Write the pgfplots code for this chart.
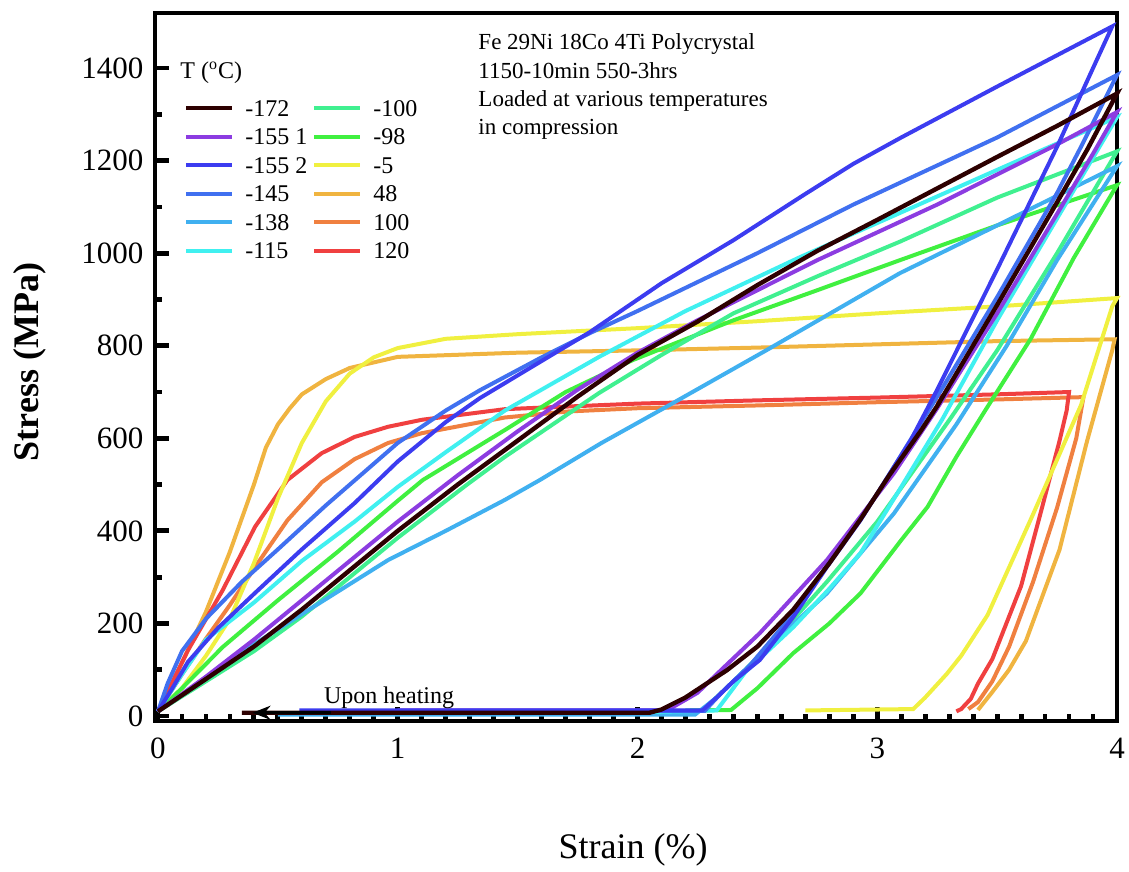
\documentclass[border=0pt]{standalone}
\usepackage{fontspec}
\setmainfont{Liberation Serif}
\usepackage{pgfplots}
\pgfplotsset{compat=1.18}
\usetikzlibrary{arrows.meta}
\definecolor{c172}{RGB}{45,0,0}
\definecolor{c1551}{RGB}{140,60,225}
\definecolor{c1552}{RGB}{60,60,240}
\definecolor{c145}{RGB}{64,112,240}
\definecolor{c138}{RGB}{64,176,240}
\definecolor{c115}{RGB}{64,240,240}
\definecolor{c100n}{RGB}{64,240,144}
\definecolor{c98}{RGB}{64,240,64}
\definecolor{c5}{RGB}{240,240,64}
\definecolor{c48}{RGB}{240,180,64}
\definecolor{c100}{RGB}{240,128,64}
\definecolor{c120}{RGB}{240,64,64}
\begin{document}
\begin{tikzpicture}
\begin{axis}[
  at={(0,0)}, anchor=south west,
  scale only axis, width=481pt, height=354pt,
  xmin=-0.0125, xmax=4.0, ymin=-10.8, ymax=1519,
  clip=false,
  axis line style={line width=2.4pt},
  xtick={0,1,2,3,4}, ytick={0,200,...,1400},
  minor x tick num=9, minor y tick num=1,
  tick pos=left, tick align=inside,
  major tick length=7pt, minor tick length=3.5pt,
  every tick/.style={black, line width=2.4pt},
  ticklabel style={font=\fontsize{15.5}{18}\selectfont},
  xticklabel style={yshift=-5pt},
  yticklabel style={xshift=-2.3pt},
  /pgf/number format/assume math mode=true,
  /pgf/number format/1000 sep={},
  xlabel={Strain (\%)},
  ylabel={\textbf{Stress (MPa)}},
  xlabel style={at={(axis description cs:0.497,-0.1822)}, anchor=center, font=\fontsize{18}{21}\selectfont},
  ylabel style={at={(axis description cs:-0.1299,0.507)}, anchor=center, font=\fontsize{18}{21}\selectfont},
  legend columns=2, legend cell align=left,
  legend image code/.code={\draw[#1] (0pt,0pt) -- (23pt,0pt);},
  legend style={at={(rel axis cs:0.0301,0.886)}, anchor=north west, draw=none, fill=none,
    inner xsep=0pt, inner ysep=0pt,
    font=\fontsize{12}{14}\selectfont,
    nodes={inner sep=0pt, text height=11pt, text depth=3.25pt},
    /tikz/every odd column/.append style={column sep=5.5pt},
    /tikz/every even column/.append style={column sep=2.5pt},
    row sep=0pt},
]
\addlegendimage{c172, line width=2pt}\addlegendentry{-172}
\addlegendimage{c100n, line width=2pt}\addlegendentry{-100}
\addlegendimage{c1551, line width=2pt}\addlegendentry{-155 1}
\addlegendimage{c98, line width=2pt}\addlegendentry{-98}
\addlegendimage{c1552, line width=2pt}\addlegendentry{-155 2}
\addlegendimage{c5, line width=2pt}\addlegendentry{-5}
\addlegendimage{c145, line width=2pt}\addlegendentry{-145}
\addlegendimage{c48, line width=2pt}\addlegendentry{48}
\addlegendimage{c138, line width=2pt}\addlegendentry{-138}
\addlegendimage{c100, line width=2pt}\addlegendentry{100}
\addlegendimage{c115, line width=2pt}\addlegendentry{-115}
\addlegendimage{c120, line width=2pt}\addlegendentry{120}

% 48 C
\addplot[forget plot, c48, line width=2pt] coordinates {
(0,10) (0.1,115) (0.2,225) (0.3,355) (0.4,500) (0.45,580) (0.5,630) (0.55,665) (0.6,695) (0.7,728) (0.8,752) (1.0,776) (1.5,785) (2.0,790) (2.5,796) (3.0,803) (3.5,810) (3.99,814)
(3.98,790) (3.875,594) (3.76,359) (3.62,162) (3.55,100) (3.48,52) (3.42,13)};
% 100 C
\addplot[forget plot, c100, line width=2pt] coordinates {
(0,10) (0.1,90) (0.196,164) (0.3,240) (0.405,322) (0.54,423) (0.683,505) (0.82,555) (0.96,590) (1.1,611) (1.447,645) (1.71,658) (2.0,665) (2.5,671) (3.0,678) (3.5,684) (3.86,689)
(3.83,600) (3.75,450) (3.65,290) (3.55,150) (3.48,75) (3.42,30) (3.38,15)};
% 120 C
\addplot[forget plot, c120, line width=2pt] coordinates {
(0,10) (0.125,142) (0.27,272) (0.405,409) (0.54,510) (0.683,568) (0.82,603) (0.96,625) (1.1,640) (1.447,663) (2.0,675) (2.5,682) (3.0,688) (3.5,695) (3.8,700)
(3.79,660) (3.76,594) (3.68,436) (3.60,281) (3.48,123) (3.42,70) (3.39,37) (3.35,15) (3.33,10)};
% -5 C
\addplot[forget plot, c5, line width=2pt] coordinates {
(0,10) (0.1,60) (0.2,130) (0.3,210) (0.4,330) (0.5,470) (0.6,590) (0.7,680) (0.8,740) (0.9,775) (1.0,795) (1.2,815) (1.5,825) (2.0,838) (2.5,853) (3.0,870) (3.5,885) (4.0,903)
(3.98,885) (3.85,672) (3.65,436) (3.46,218) (3.35,130) (3.29,91) (3.2,40) (3.15,15) (2.7,12)};
% -98 C
\addplot[forget plot, c98, line width=2pt] coordinates {
(0,10) (0.1,60) (0.27,149) (0.5,250) (0.75,355) (1.0,465) (1.105,510) (1.447,618) (1.7,700) (1.98,769) (2.4,855) (2.75,920) (3.095,985) (3.5,1060) (4.0,1147)
(3.82,990) (3.64,815) (3.45,660) (3.33,560) (3.21,452) (3.1,380) (2.93,265) (2.8,200) (2.65,136) (2.5,60) (2.39,13) (2.22,12)};
% -100 C
\addplot[forget plot, c100n, line width=2pt] coordinates {
(0,10) (0.2,75) (0.4,140) (0.6,215) (0.8,300) (1.0,385) (1.289,500) (1.447,560) (1.84,698) (2.1,780) (2.4,870) (2.75,950) (3.095,1025) (3.5,1120) (4.0,1220)
(3.75,1000) (3.5,790) (3.3,639) (3.0,420) (2.79,290) (2.6,180) (2.45,100) (2.35,50) (2.27,12) (2.2,12)};
% -138 C
\addplot[forget plot, c138, line width=2pt] coordinates {
(0,10) (0.2,80) (0.4,155) (0.6,220) (0.8,285) (0.96,337) (1.2,400) (1.447,467) (1.593,510) (1.85,590) (2.12,668) (2.54,791) (3.095,957) (3.5,1060) (4.0,1188)
(3.75,985) (3.54,800) (3.33,630) (3.07,438) (2.79,265) (2.6,175) (2.45,100) (2.33,40) (2.24,3) (0.5,3)};
% -115 C
\addplot[forget plot, c115, line width=2pt] coordinates {
(0,10) (0.1,90) (0.2,165) (0.4,245) (0.6,335) (0.82,420) (1.0,495) (1.2,570) (1.447,660) (1.84,776) (2.2,875) (2.68,992) (3.095,1087) (3.5,1180) (4.0,1294)
(3.75,1075) (3.5,855) (3.27,640) (3.1,495) (2.93,352) (2.8,275) (2.65,192) (2.45,95) (2.33,12) (2.0,8)};
% -145 C
\addplot[forget plot, c145, line width=2pt] coordinates {
(0,10) (0.04,70) (0.1,140) (0.2,210) (0.35,290) (0.5,360) (0.7,455) (1.0,590) (1.2,660) (1.343,704) (1.6,775) (1.8,827) (2.0,875) (2.5,1000) (2.9,1105) (3.5,1250) (4.0,1385)
(3.85,1230) (3.75,1130) (3.5,905) (3.25,690) (3.0,480) (2.75,295) (2.6,190) (2.47,110) (2.35,50) (2.28,11) (1.07,11)};
% -155 1
\addplot[forget plot, c1551, line width=2pt] coordinates {
(0,10) (0.2,85) (0.4,165) (0.6,250) (0.8,335) (1.0,420) (1.25,520) (1.5,615) (1.75,705) (2.0,785) (2.25,855) (2.5,920) (2.75,985) (3.0,1045) (3.25,1105) (3.5,1170) (3.75,1235) (4.0,1305)
(3.9,1215) (3.75,1085) (3.5,870) (3.25,665) (3.07,525) (2.79,337) (2.51,179) (2.35,100) (2.25,50) (2.15,20) (2.1,12) (1.0,12)};
% -155 2
\addplot[forget plot, c1552, line width=2pt] coordinates {
(0,10) (0.06,60) (0.125,117) (0.25,190) (0.405,266) (0.6,360) (0.82,460) (1.0,550) (1.2,635) (1.343,687) (1.6,767) (1.8,829) (2.1,935) (2.4,1028) (2.7,1128) (2.9,1193) (3.1,1250) (3.5,1360) (3.98,1490)
(3.9,1400) (3.75,1230) (3.5,965) (3.25,705) (3.14,596) (2.93,423) (2.79,322) (2.65,214) (2.51,121) (2.4,75) (2.33,40) (2.27,12) (0.59,12)};
% -172 C
\addplot[forget plot, c172, line width=2.2pt] coordinates {
(0,10) (0.1,45) (0.2,80) (0.4,150) (0.6,230) (0.8,315) (1.0,400) (1.25,500) (1.5,595) (1.75,690) (2.0,780) (2.25,852) (2.5,931) (2.75,1005) (3.0,1072) (3.25,1140) (3.5,1208) (3.75,1275) (4.0,1345)
(3.875,1223) (3.75,1110) (3.5,888) (3.25,670) (3.18,615) (3.05,520) (2.93,425) (2.8,330) (2.65,230) (2.5,150) (2.373,99) (2.2,40) (2.1,14) (2.05,7) (0.35,7)};

\draw[black, line width=1.5pt, -{Stealth[length=9pt,width=7pt]}] (axis cs:0.72,7) -- (axis cs:0.394,7);
\node[anchor=base, font=\fontsize{12}{14}\selectfont, inner sep=0pt] at (axis cs:0.964,28) {Upon heating};
\node[anchor=west, font=\fontsize{12}{14}\selectfont, inner sep=0pt] at (axis cs:0.092,1390) {T (\textsuperscript{o}C)};
\node[anchor=north west, align=left, inner sep=0pt, font=\fontsize{11.5}{14.2}\selectfont] at (axis cs:1.335,1475) {Fe 29Ni 18Co 4Ti Polycrystal\\1150-10min 550-3hrs\\Loaded at various temperatures\\in compression};
\end{axis}
\pgfresetboundingbox
\useasboundingbox (-77.5pt,-75.5pt) rectangle (487pt,360.5pt);
\end{tikzpicture}
\end{document}
